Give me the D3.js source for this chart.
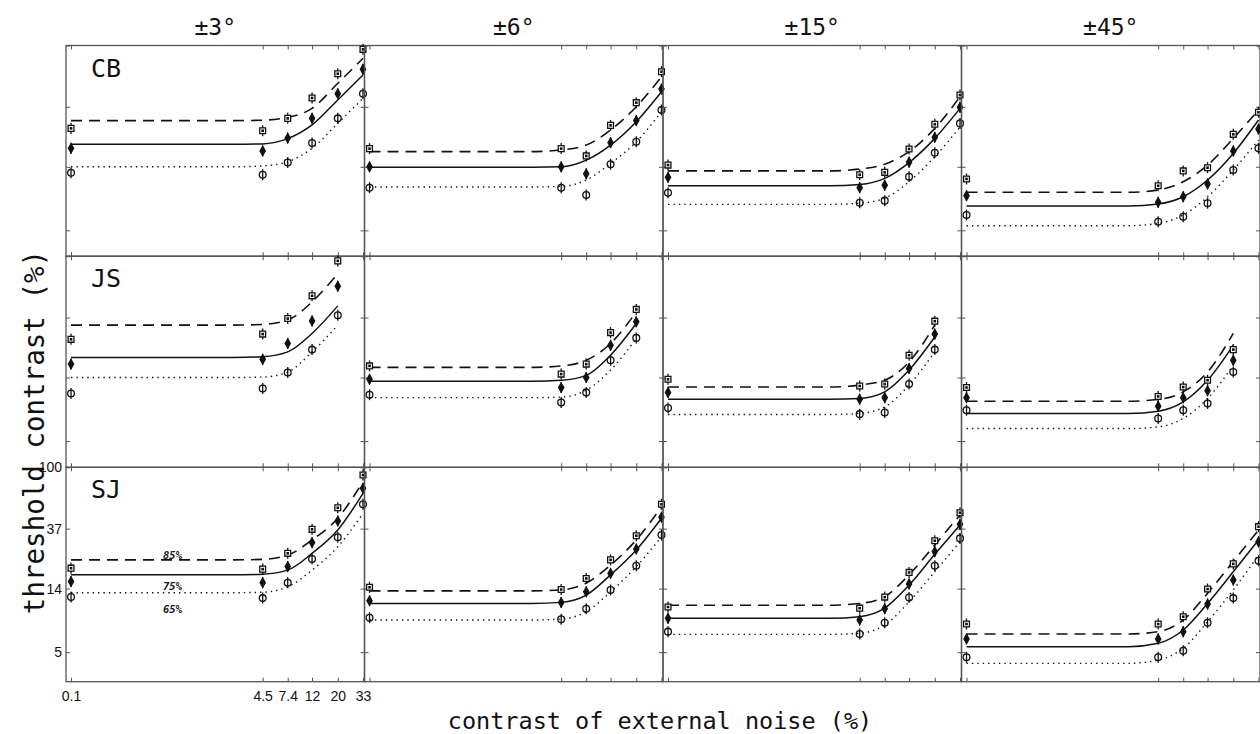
<!DOCTYPE html>
<html>
<head>
<meta charset="utf-8">
<script src="https://cdn.jsdelivr.net/npm/d3@7"></script>
<style>
  body { margin: 0; background: #fff; }
  svg { display: block; }
</style>
</head>
<body>
<svg id="dessin" width="1260" height="734"></svg>
<script>
// noise levels (%) where thresholds were measured, and where the fitted curves were read
const noise = [0.1, 4.5, 7.4, 12, 20, 33];
const fitNoise = [0.1, 2.5, 4.5, 7.4, 12, 20, 33];
const observers = ["CB", "JS", "SJ"];
const tilts = ["±3°", "±6°", "±15°", "±45°"];
const yTicks = [5, 14, 37, 100];
const criteria = ["85%", "75%", "65%"];

// thresholds (%), one row per tilt: squares = 85%, diamonds = 75%, circles = 65%
const cb85 = [[26.1, 25.1, 30.7, 42.7, 63.3, 94.0], [18.8, 18.8, 16.7, 27.4, 39.6, 65.4],
              [14.4, 12.3, 12.8, 18.7, 27.9, 44.8], [11.5, 10.3, 13.1, 13.8, 23.7, 33.9]];
const cb75 = [[18.9, 18.1, 22.3, 30.7, 45.8, 68.0], [14.0, 14.0, 12.5, 20.7, 29.6, 49.4],
              [11.8, 9.98, 10.4, 15.1, 22.6, 36.7], [8.77, 7.88, 8.62, 10.6, 18.1, 25.8]];
const cb65 = [[12.7, 12.3, 15.0, 20.6, 30.7, 45.8], [9.98, 9.98, 8.86, 14.6, 21.0, 35.2],
              [9.2, 7.82, 8.09, 11.9, 17.6, 28.3], [6.41, 5.75, 6.23, 7.76, 13.3, 18.9]];

const js85 = [[26.0, 28.3, 36.4, 52.6, 92.7], [16.9, 14.8, 17.4, 29.0, 42.2],
              [13.6, 12.2, 12.6, 20.1, 34.9], [11.9, 10.3, 12.0, 13.4, 22.0]];
const js75 = [[17.4, 18.8, 24.3, 35.0, 61.5], [13.6, 11.9, 14.0, 23.6, 34.5],
              [11.0, 9.85, 10.1, 16.2, 28.3], [10.1, 8.79, 10.1, 11.3, 18.5]];
const js65 = [[10.8, 11.7, 15.2, 22.0, 38.4], [10.6, 9.34, 11.0, 18.5, 26.6],
              [8.55, 7.73, 7.94, 12.6, 22.0], [8.24, 7.21, 8.24, 9.19, 15.3]];

const sj85 = [[19.5, 19.2, 24.8, 36.6, 51.9, 88.3], [14.3, 13.8, 16.5, 22.3, 33.0, 54.9],
              [10.4, 10.2, 12.2, 18.2, 30.4, 47.9], [7.89, 7.89, 8.88, 13.9, 20.9, 38.2]];
const sj75 = [[15.7, 15.4, 20.0, 29.5, 41.9, 71.2], [11.5, 11.2, 13.3, 17.9, 26.6, 44.5],
              [8.65, 8.42, 10.1, 15.1, 25.5, 39.7], [6.19, 6.19, 6.97, 10.9, 16.1, 29.9]];
const sj65 = [[12.2, 12.0, 15.4, 22.6, 32.2, 54.9], [8.74, 8.52, 10.1, 13.7, 20.3, 33.4],
              [6.97, 6.71, 8.06, 12.1, 20.3, 31.6], [4.60, 4.60, 5.12, 8.06, 12.0, 22.0]];

// fitted curves read at fitNoise (dashed = 85%, solid = 75%, dotted = 65%)
const cbFit85 = [[29.6, 29.6, 29.8, 31.2, 36.1, 54.2, 81.3], [17.9, 17.9, 18.4, 19.9, 25.4, 37.1, 60.3],
                 [13.1, 13.1, 13.5, 14.6, 17.9, 26.1, 43.6], [9.26, 9.26, 9.61, 11.0, 14.4, 22.2, 35.2]];
const cbFit75 = [[20.2, 20.2, 20.3, 22.1, 27.6, 41.4, 62.0], [13.9, 13.9, 14.0, 15.6, 19.9, 29.1, 47.3],
                 [10.3, 10.3, 10.5, 11.6, 15.0, 22.2, 36.1], [7.42, 7.42, 7.66, 8.62, 11.3, 17.4, 29.9]];
const cbFit65 = [[14.0, 14.0, 14.2, 15.2, 18.9, 28.3, 42.5], [10.1, 10.1, 10.2, 11.3, 14.8, 21.0, 34.2],
                 [7.62, 7.62, 7.76, 8.41, 11.0, 16.5, 26.6], [5.39, 5.39, 5.60, 6.41, 8.62, 13.3, 21.6]];

const jsFit85 = [[32.7, 32.7, 33.1, 35.5, 47.7, 75.6], [16.5, 16.5, 16.9, 18.5, 24.3, 40.5],
                 [12.0, 12.0, 12.4, 13.4, 18.0, 32.7], [9.54, 9.54, 9.81, 11.1, 15.3, 28.6]];
const jsFit75 = [[19.4, 19.4, 19.6, 21.2, 28.6, 44.7], [13.2, 13.2, 13.4, 14.5, 20.1, 33.6],
                 [9.85, 9.85, 9.97, 11.1, 15.8, 27.0], [7.82, 7.82, 8.11, 9.43, 13.4, 23.6]];
const jsFit65 = [[14.0, 14.0, 14.1, 15.3, 21.2, 32.7], [10.1, 10.1, 10.2, 11.4, 15.8, 26.3],
                 [7.69, 7.69, 7.82, 8.70, 12.4, 21.2], [6.12, 6.12, 6.29, 7.21, 9.97, 17.1]];

const sjFit85 = [[22.3, 22.3, 22.5, 24.1, 30.8, 43.8, 79.2], [13.5, 13.5, 13.7, 15.3, 20.5, 30.8, 52.8],
                 [10.7, 10.7, 11.0, 12.3, 17.5, 28.4, 46.2], [6.71, 6.71, 6.97, 8.42, 13.0, 21.7, 36.2]];
const sjFit75 = [[17.5, 17.5, 17.7, 18.9, 24.8, 36.2, 65.6], [11.0, 11.0, 11.2, 12.6, 17.5, 26.2, 43.8],
                 [8.65, 8.65, 8.88, 10.2, 14.8, 24.4, 39.3], [5.46, 5.46, 5.77, 7.16, 11.0, 18.4, 30.8]];
const sjFit65 = [[13.1, 13.1, 13.2, 14.4, 18.9, 27.6, 47.4], [8.42, 8.42, 8.55, 9.63, 13.3, 20.0, 32.5],
                 [6.67, 6.67, 6.79, 7.76, 11.3, 18.4, 29.9], [4.17, 4.17, 4.40, 5.32, 8.19, 13.7, 24.1]];

const pointsBy = { CB: [cb85, cb75, cb65], JS: [js85, js75, js65], SJ: [sj85, sj75, sj65] };
const fitsBy = { CB: [cbFit85, cbFit75, cbFit65], JS: [jsFit85, jsFit75, jsFit65], SJ: [sjFit85, sjFit75, sjFit65] };

// layout
const colLeft = [66, 364.5, 663, 961.5];
const colW = 298.5;
const rowTop = [45.5, 256.2, 467.3];
const rowBot = [256.2, 467.3, 681.7];
const pxPerE = 61.7;

const mono = "'DejaVu Sans Mono', monospace";
const sans = "'Liberation Sans', Arial, sans-serif";

const svg = d3.select("#dessin");

const lineStyles = [
  { dash: "11,7", width: 1.6 },
  { dash: null, width: 1.5 },
  { dash: "1.4,4", width: 1.4 }
];
const symbols = [d3.symbolSquare, d3.symbolDiamond, d3.symbolCircle];
const symSize = [34, 24, 36];

observers.forEach((obs, r) => {
  tilts.forEach((tilt, c) => {
    const x = d3.scaleLog().domain([0.0905, 34]).range([colLeft[c], colLeft[c] + colW]);
    const y = d3.scaleLog().domain([100, 1]).range([rowTop[r], rowTop[r] + pxPerE * Math.log(100)]);
    const g = svg.append("g").attr("class", "panel");

    // frame
    g.append("rect")
      .attr("x", colLeft[c]).attr("y", rowTop[r])
      .attr("width", colW).attr("height", rowBot[r] - rowTop[r])
      .attr("fill", "none").attr("stroke", "#555").attr("stroke-width", 1.3);

    // inward ticks on all four sides
    const showLabels = (r === 2 && c === 0);
    const axB = g.append("g").attr("transform", `translate(0,${rowBot[r]})`)
      .call(d3.axisBottom(x).tickValues(noise).tickSize(-4).tickPadding(9)
        .tickFormat(showLabels ? d => d : ""));
    const axT = g.append("g").attr("transform", `translate(0,${rowTop[r]})`)
      .call(d3.axisTop(x).tickValues(noise).tickSize(-4).tickFormat(""));
    const axL = g.append("g").attr("transform", `translate(${colLeft[c]},0)`)
      .call(d3.axisLeft(y).tickValues(yTicks).tickSize(-4).tickPadding(4)
        .tickFormat(showLabels ? d3.format("d") : ""));
    const axR = g.append("g").attr("transform", `translate(${colLeft[c] + colW},0)`)
      .call(d3.axisRight(y).tickValues(yTicks).tickSize(-4).tickFormat(""));
    [axB, axT, axL, axR].forEach(a => {
      a.select(".domain").remove();
      a.selectAll("line").attr("stroke", "#555").attr("stroke-width", 1);
      a.selectAll("text").attr("fill", "#111").style("font-family", sans).style("font-size", "14px");
    });

    // fitted curves
    fitsBy[obs].forEach((fit, k) => {
      const pts = fit[c].map((v, i) => [fitNoise[i], v]);
      g.append("path")
        .datum(pts)
        .attr("d", d3.line().x(d => x(d[0])).y(d => y(d[1])).curve(d3.curveMonotoneX))
        .attr("fill", "none").attr("stroke", "#111")
        .attr("stroke-width", lineStyles[k].width)
        .attr("stroke-dasharray", lineStyles[k].dash);
    });

    // data points with error bars
    pointsBy[obs].forEach((ser, k) => {
      const pts = ser[c].map((v, i) => [noise[i], v]);
      g.selectAll(null).data(pts).enter().append("line")
        .attr("x1", d => x(d[0])).attr("x2", d => x(d[0]))
        .attr("y1", d => y(d[1]) - 5.5).attr("y2", d => y(d[1]) + 5.5)
        .attr("stroke", "#111").attr("stroke-width", 1.3);
      g.selectAll(null).data(pts).enter().append("path")
        .attr("transform", d => `translate(${x(d[0])},${y(d[1])})`)
        .attr("d", d3.symbol().type(symbols[k]).size(symSize[k]))
        .attr("fill", k === 1 ? "#111" : (k === 0 ? "#fff" : "none"))
        .attr("stroke", "#111").attr("stroke-width", 1.3);
      if (k === 0) {
        g.selectAll(null).data(pts).enter().append("rect")
          .attr("x", d => x(d[0]) - 1.3).attr("y", d => y(d[1]) - 1.3)
          .attr("width", 2.6).attr("height", 2.6).attr("fill", "#111");
      }
    });

    // observer label
    if (c === 0) {
      g.append("text")
        .attr("x", colLeft[c] + 25).attr("y", rowTop[r] + 31)
        .style("font-family", mono).style("font-size", "25px").attr("fill", "#111")
        .text(obs);
    }

    // criterion labels
    if (r === 2 && c === 0) {
      const fits = fitsBy[obs];
      const lx = x(0.75);
      const ly = [y(fits[0][c][0]) - 0.5, y(fits[2][c][0]) - 2.5, y(fits[2][c][0]) + 20];
      criteria.forEach((t, k) => {
        g.append("text").attr("x", lx).attr("y", ly[k]).attr("text-anchor", "middle")
          .style("font-family", mono).style("font-size", "10.5px")
          .style("font-weight", "bold").style("font-style", "italic")
          .attr("fill", "#222").text(t);
      });
    }
  });
});

// column headers
tilts.forEach((t, c) => {
  svg.append("text")
    .attr("x", colLeft[c] + colW / 2).attr("y", 35)
    .attr("text-anchor", "middle")
    .style("font-family", mono).style("font-size", "23px").attr("fill", "#111")
    .text(t);
});

// axis titles
svg.append("text")
  .attr("transform", "translate(44,432) rotate(-90)")
  .attr("text-anchor", "middle")
  .style("font-family", mono).style("font-size", "27.5px").attr("fill", "#111")
  .text("threshold contrast (%)");

svg.append("text")
  .attr("x", 660).attr("y", 729)
  .attr("text-anchor", "middle")
  .style("font-family", mono).style("font-size", "23.5px").attr("fill", "#111")
  .text("contrast of external noise (%)");
</script>
</body>
</html>
